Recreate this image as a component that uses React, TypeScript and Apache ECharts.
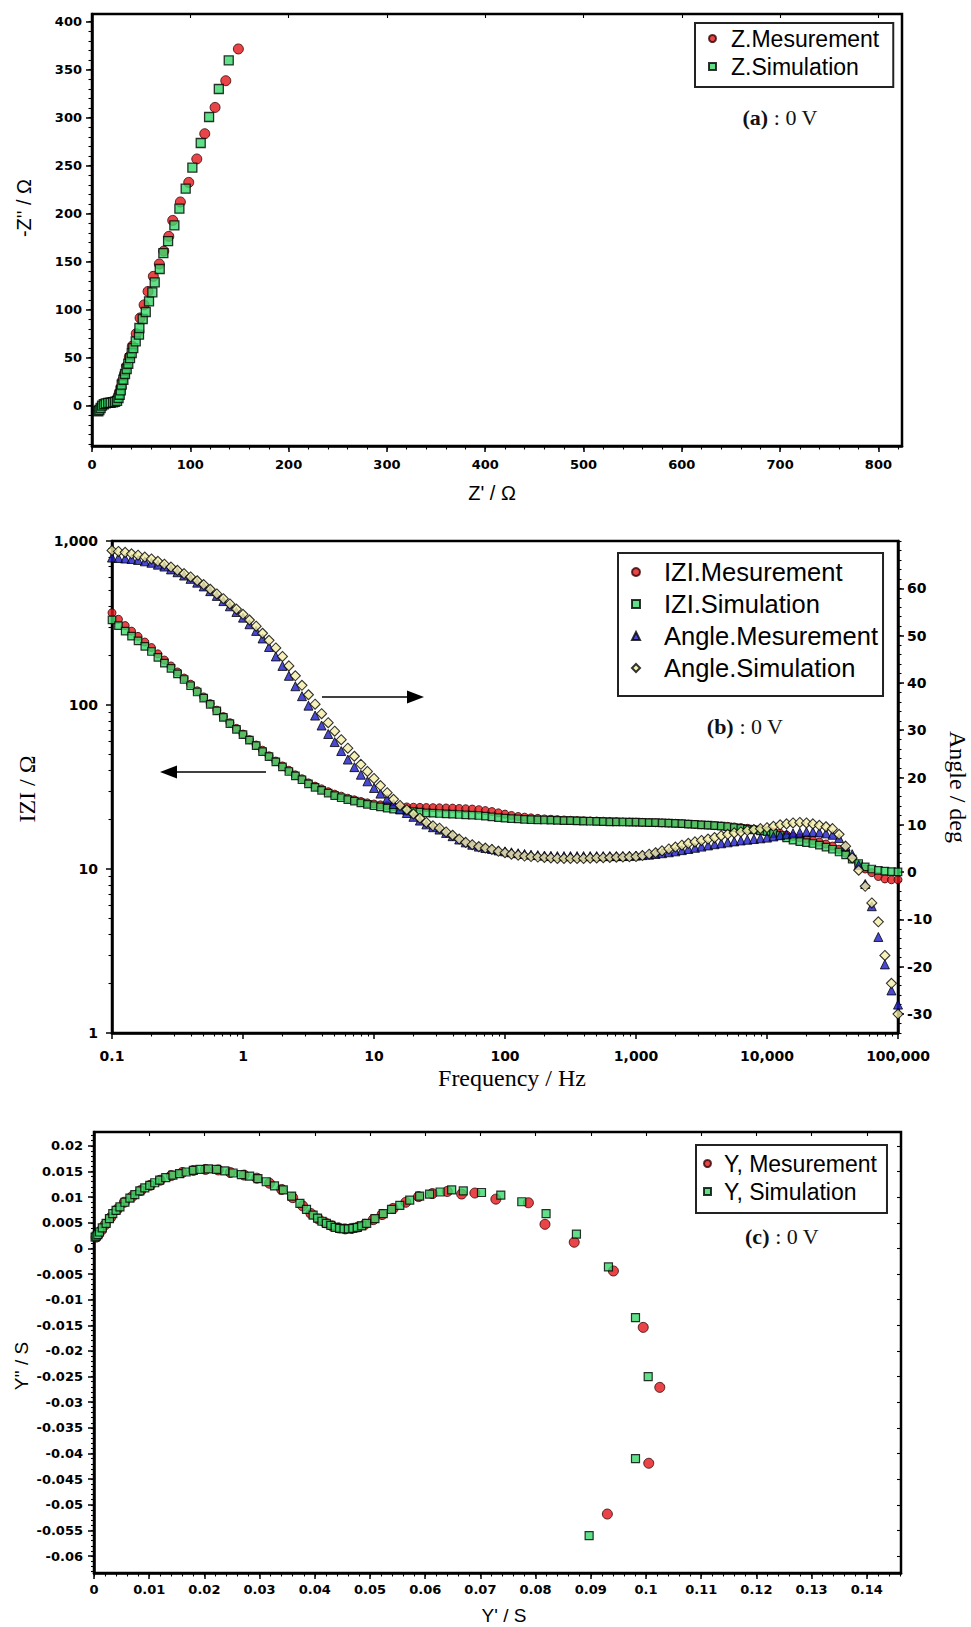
import React, { useEffect, useRef } from 'react';
import * as echarts from 'echarts';

// ---------- Panel (a): Nyquist, Z ----------
const zMesRe = [7, 9, 11, 13.5, 16, 18.5, 21, 24, 26.5, 28, 29.5, 31, 33, 35, 38, 41, 45, 48.9, 53, 57, 62.4, 68.5, 73, 78.1, 82.1, 89.9, 98.4, 106.6, 114.7, 125.2, 136.1, 148.9];
const zMesIm = [-4, -1.5, 1, 2.5, 3, 3.5, 4, 5, 9, 14, 19, 26, 33, 41, 51, 62, 75, 91.4, 105, 119, 134.7, 147.6, 161, 176.4, 193, 212.2, 232.6, 257, 283.3, 310.7, 338.5, 371.6];
const zSimRe = [6.4, 7.5, 8.8, 10.2, 12, 14, 16.5, 19, 21.5, 23.5, 25.5, 27, 28.2, 29.3, 30.2, 31.9, 33.6, 35.3, 36.9, 38.7, 40.4, 42, 44.5, 47.8, 48.2, 51.6, 54.7, 58, 61.4, 63.8, 68.9, 72.6, 77.4, 83.8, 88.9, 95.3, 102.1, 110.6, 119.1, 129, 139.1];
const zSimIm = [-5.8, -4.5, -2.4, 0, 1.5, 2.5, 3, 3, 3.5, 4, 5, 8, 11.4, 16, 21.9, 27, 33, 38.2, 43.7, 49.6, 54.9, 60, 67, 74, 80.9, 90.3, 97.6, 108.7, 118.1, 128.4, 142.4, 159, 171.5, 187.8, 205.2, 226, 247.9, 273.6, 300.7, 329.9, 359.7];
const zReTicks = [0, 100, 200, 300, 400, 500, 600, 700, 800];
const zImTicks = [0, 50, 100, 150, 200, 250, 300, 350, 400];

// ---------- Panel (b): Bode ----------
const freq = [
  0.1, 0.112, 0.126, 0.141, 0.158, 0.178, 0.2, 0.224, 0.251, 0.282, 0.316, 0.355, 0.398, 0.447, 0.501, 0.562, 0.631, 0.708, 0.794, 0.891,
  1, 1.12, 1.26, 1.41, 1.58, 1.78, 2, 2.24, 2.51, 2.82, 3.16, 3.55, 3.98, 4.47, 5.01, 5.62, 6.31, 7.08, 7.94, 8.91,
  10, 11.2, 12.6, 14.1, 15.8, 17.8, 20, 22.4, 25.1, 28.2, 31.6, 35.5, 39.8, 44.7, 50.1, 56.2, 63.1, 70.8, 79.4, 89.1,
  100, 112, 126, 141, 158, 178, 200, 224, 251, 282, 316, 355, 398, 447, 501, 562, 631, 708, 794, 891,
  1000, 1120, 1260, 1410, 1580, 1780, 2000, 2240, 2510, 2820, 3160, 3550, 3980, 4470, 5010, 5620, 6310, 7080, 7940, 8910,
  10000, 11200, 12600, 14100, 15800, 17800, 20000, 22400, 25100, 28200, 31600, 35500, 39800, 44700, 50100, 56200, 63100, 70800, 79400, 89100,
  100000,
];
const zModMes = [
  365, 333, 305, 282, 262, 242, 224, 205, 188, 173, 159, 146, 134, 122, 112, 102, 93, 85, 78, 72,
  66.5, 61.5, 57, 53, 49, 45.5, 42.5, 40, 37.5, 35.5, 33.5, 32, 30.8, 29.6, 28.6, 27.8, 27, 26.4, 25.8, 25.3,
  24.9, 24.6, 24.3, 24.1, 24.0, 23.9, 23.8, 23.75, 23.7, 23.65, 23.6, 23.55, 23.5, 23.4, 23.3, 23.2, 23.0, 22.7, 22.4, 22.0,
  21.6, 21.2, 20.9, 20.7, 20.5, 20.35, 20.2, 20.1, 20.0, 19.9, 19.8, 19.75, 19.7, 19.65, 19.6, 19.55, 19.5, 19.45, 19.4, 19.35,
  19.3, 19.25, 19.2, 19.15, 19.1, 19.05, 19.0, 18.9, 18.8, 18.7, 18.6, 18.5, 18.4, 18.3, 18.2, 18.05, 17.9, 17.7, 17.5, 17.3,
  17.1, 16.8, 16.5, 16.1, 15.8, 15.5, 15.2, 14.9, 14.6, 14.2, 13.8, 13.2, 12.5, 11.6, 10.7, 10.0, 9.5, 9.0, 8.7, 8.6,
  8.6,
];
const zModSim = [
  330, 305, 282, 263, 246, 228, 212, 195, 180, 167, 155, 143, 131, 120, 110, 101, 92, 84, 77, 71,
  66, 61, 56.5, 52, 48.5, 45, 42, 39.3, 37, 35, 33, 31.5, 30.2, 29, 28, 27.2, 26.5, 25.9, 25.3, 24.8,
  24.3, 23.9, 23.5, 23.2, 22.9, 22.6, 22.4, 22.2, 22.0, 21.9, 21.8, 21.7, 21.6, 21.5, 21.4, 21.3, 21.2, 21.0, 20.8, 20.6,
  20.4, 20.3, 20.2, 20.1, 20.0, 19.95, 19.9, 19.85, 19.8, 19.75, 19.7, 19.65, 19.6, 19.55, 19.5, 19.45, 19.4, 19.38, 19.35, 19.32,
  19.3, 19.25, 19.2, 19.15, 19.1, 19.05, 19.0, 18.9, 18.8, 18.7, 18.6, 18.5, 18.4, 18.25, 18.1, 17.9, 17.7, 17.5, 17.3, 17.1,
  16.9, 16.5, 16.0, 15.5, 15.0, 14.7, 14.5, 14.3, 14.0, 13.6, 13.2, 12.7, 12.2, 11.5, 10.8, 10.3, 10.0, 9.8, 9.7, 9.65,
  9.6,
];
const angleMes = [
  66.5, 66.4, 66.3, 66.2, 66, 65.7, 65.4, 65, 64.6, 64, 63.4, 62.7, 62, 61.2, 60.4, 59.4, 58.4, 57.3, 56.2, 55,
  53.8, 52.4, 51, 49.4, 47.6, 45.6, 43.6, 41.5, 39.3, 37.2, 35.2, 33.1, 31, 29.2, 27.5, 25.6, 23.8, 22.2, 20.6, 19.2,
  17.8, 16.6, 15.5, 14.4, 13.3, 12.5, 11.7, 10.9, 10.1, 9.5, 9.0, 8.3, 7.6, 6.9, 6.3, 5.8, 5.4, 5.1, 4.9, 4.6,
  4.4, 4.2, 4.0, 3.85, 3.7, 3.6, 3.5, 3.45, 3.4, 3.4, 3.4, 3.4, 3.4, 3.4, 3.4, 3.4, 3.4, 3.4, 3.4, 3.45,
  3.5, 3.6, 3.7, 3.85, 4.0, 4.2, 4.4, 4.65, 4.9, 5.15, 5.4, 5.65, 5.9, 6.1, 6.3, 6.5, 6.7, 6.85, 7.0, 7.15,
  7.3, 7.55, 7.8, 8.0, 8.2, 8.35, 8.5, 8.5, 8.4, 8.2, 7.9, 7.2, 5.5, 3.8, 1.5, -2.5, -7.2, -13.7, -19.5, -25,
  -28,
];
const angleSim = [
  68, 67.8, 67.6, 67.3, 67, 66.6, 66.2, 65.7, 65.1, 64.5, 63.8, 63.1, 62.4, 61.6, 60.8, 59.8, 58.8, 57.8, 56.7, 55.6,
  54.5, 53.3, 52, 50.5, 49, 47.4, 45.6, 43.6, 41.5, 39.5, 37.5, 35.5, 33.5, 31.6, 29.8, 28, 26.2, 24.5, 22.8, 21.3,
  19.8, 18.3, 16.8, 15.4, 14.1, 13.2, 12.3, 11.4, 10.5, 9.8, 9.3, 8.5, 7.8, 7.0, 6.3, 5.8, 5.4, 5.1, 4.8, 4.4,
  4.1, 3.8, 3.6, 3.4, 3.3, 3.2, 3.1, 3.0, 2.9, 2.9, 2.9, 2.9, 2.9, 2.95, 3.0, 3.05, 3.1, 3.15, 3.2, 3.25,
  3.3, 3.5, 3.8, 4.1, 4.5, 4.9, 5.3, 5.7, 6.1, 6.4, 6.7, 7.0, 7.3, 7.7, 8.0, 8.3, 8.5, 8.8, 9.0, 9.2,
  9.4, 9.7, 10.0, 10.2, 10.4, 10.5, 10.4, 10.2, 9.9, 9.6, 9.2, 8.0, 5.5, 3.0, 0.4, -3.0, -6.5, -10.5, -17.6, -23.5,
  -30,
];
const freqTickLabels = ['0.1', '1', '10', '100', '1,000', '10,000', '100,000'];
const modTickLabels = ['1', '10', '100', '1,000'];
const angleTicks = [-30, -20, -10, 0, 10, 20, 30, 40, 50, 60];
const logMinorMultipliers = [2, 3, 4, 5, 6, 7, 8, 9];

// ---------- Panel (c): Admittance ----------
const yMesRe = [0.0004, 0.0008, 0.0013, 0.002, 0.003, 0.0042, 0.0055, 0.0069, 0.0085, 0.0102, 0.012, 0.014, 0.016, 0.018, 0.0202, 0.0225, 0.0247, 0.0272, 0.0295, 0.0318, 0.034, 0.036, 0.0378, 0.0393, 0.0407, 0.0419, 0.0431, 0.0443, 0.0455, 0.0467, 0.0479, 0.0491, 0.0506, 0.0522, 0.0542, 0.0565, 0.0588, 0.0613, 0.064, 0.0666, 0.069, 0.0728, 0.0787, 0.0817, 0.087, 0.0941, 0.0995, 0.1025, 0.1005, 0.093];
const yMesIm = [0.0022, 0.0027, 0.0035, 0.0046, 0.006, 0.0076, 0.009, 0.0101, 0.0113, 0.0123, 0.0133, 0.0142, 0.0148, 0.0152, 0.0154, 0.0153, 0.0148, 0.0143, 0.0137, 0.0127, 0.0115, 0.0099, 0.0083, 0.0068, 0.0057, 0.005, 0.0044, 0.004, 0.0038, 0.0039, 0.0042, 0.0047, 0.0056, 0.0066, 0.0078, 0.009, 0.0101, 0.0107, 0.0111, 0.0106, 0.0108, 0.0096, 0.0089, 0.0047, 0.0012, -0.0044, -0.0154, -0.0271, -0.0419, -0.0518];
const ySimRe = [0.0002, 0.0004, 0.0007, 0.001, 0.0015, 0.0022, 0.0028, 0.0034, 0.004, 0.0047, 0.0056, 0.0065, 0.0074, 0.0083, 0.0092, 0.0101, 0.011, 0.0119, 0.013, 0.0143, 0.0155, 0.0167, 0.018, 0.0192, 0.0207, 0.0222, 0.0237, 0.0252, 0.0267, 0.0282, 0.0297, 0.0312, 0.0327, 0.0343, 0.0358, 0.0373, 0.0385, 0.0397, 0.0405, 0.0413, 0.0421, 0.0429, 0.0437, 0.0445, 0.0453, 0.0461, 0.0469, 0.0477, 0.0485, 0.0494, 0.0509, 0.0524, 0.0539, 0.0554, 0.0572, 0.059, 0.0608, 0.0627, 0.0648, 0.0669, 0.0702, 0.0737, 0.0775, 0.0819, 0.0874, 0.0932, 0.0981, 0.1004, 0.0981, 0.0897];
const ySimIm = [0.0022, 0.0024, 0.0027, 0.0032, 0.004, 0.0049, 0.0058, 0.0068, 0.0074, 0.0081, 0.009, 0.0098, 0.0105, 0.0112, 0.0118, 0.0123, 0.0128, 0.0133, 0.0138, 0.0143, 0.0146, 0.0149, 0.0152, 0.0154, 0.0155, 0.0154, 0.0151, 0.0147, 0.0144, 0.0141, 0.0136, 0.013, 0.0122, 0.0114, 0.0102, 0.0088, 0.0076, 0.0065, 0.0059, 0.0053, 0.0049, 0.0045, 0.0041, 0.0039, 0.0038, 0.0038, 0.0039, 0.0041, 0.0044, 0.0049, 0.0058, 0.0068, 0.0076, 0.0084, 0.0094, 0.0102, 0.0106, 0.011, 0.0114, 0.0112, 0.0109, 0.0104, 0.0091, 0.0068, 0.0028, -0.0036, -0.0135, -0.025, -0.041, -0.056];
const yReTicks = [0, 0.01, 0.02, 0.03, 0.04, 0.05, 0.06, 0.07, 0.08, 0.09, 0.1, 0.11, 0.12, 0.13, 0.14];
const yImTicks = [0.02, 0.015, 0.01, 0.005, 0, -0.005, -0.01, -0.015, -0.02, -0.025, -0.03, -0.035, -0.04, -0.045, -0.05, -0.055, -0.06];

// ---------- helpers ----------
const zip = (a: number[], b: number[]) => a.map((v, i) => [v, b[i]]);
const steps = (a: number, b: number, s: number) => {
  const out: number[] = [];
  for (let v = a; v <= b + s * 1e-6; v += s) out.push(+v.toFixed(6));
  return out;
};
// positions (in decades) of the log-axis minor ticks 2..9 of each decade
const logMinor = (fromDecade: number, toDecade: number) => {
  const out: number[] = [];
  for (let d = fromDecade; d < toDecade; d++) logMinorMultipliers.forEach((m) => out.push(d + Math.log10(m)));
  return out;
};

const RED = '#e3161c';
const GREEN = '#38d96c';
const BLUE = '#1c1cc8';
const YELLOW = '#f4eea8';
const tickFont = { fontFamily: 'DejaVu Sans', fontWeight: 'bold', fontSize: 13, color: '#000' };
const axisLine = { show: true, onZero: false, lineStyle: { color: '#000', width: 2.5 } };
const noLine = { show: false, onZero: false };
const majorTick = (vals: number[], len = 6, inside = false) => ({ show: true, inside, customValues: vals, length: len, lineStyle: { color: '#000', width: 1.5 } });
const minorTickAxis = (vals: number[], len = 3.5, inside = false) => ({ show: true, inside, customValues: vals, length: len, lineStyle: { color: '#000', width: 1.1 } });
const off = { show: false };
const fmtSmall = (v: number) => String(Number(v.toFixed(3)));

const gridBase = { show: true, borderColor: '#000', borderWidth: 2.5, containLabel: false, outerBoundsMode: 'none' };
const legendBase = { orient: 'vertical', borderColor: '#222', borderWidth: 2, backgroundColor: '#fff', selectedMode: false };

const option: any = {
  animation: false,
  backgroundColor: '#fff',
  grid: [
    { left: 92, top: 14, width: 810, height: 432, ...gridBase },
    { left: 112, top: 541, width: 786, height: 492, ...gridBase },
    { left: 94, top: 1132, width: 807, height: 441, ...gridBase },
  ],
  xAxis: [
    // 0: (a) main
    { gridIndex: 0, type: 'value', min: 0, max: 824, position: 'bottom', axisLine, axisTick: majorTick(zReTicks), axisLabel: { customValues: zReTicks, margin: 12, ...tickFont }, splitLine: off },
    // 1: (a) minor ticks
    { gridIndex: 0, type: 'value', min: 0, max: 824, position: 'bottom', axisLine: noLine, axisTick: minorTickAxis(steps(0, 820, 20)), axisLabel: off, splitLine: off },
    // 2: (a) top ticks
    { gridIndex: 0, type: 'value', min: 0, max: 824, position: 'top', axisLine: noLine, axisTick: minorTickAxis(zReTicks, 4, true), axisLabel: off, splitLine: off },
    // 3: (b) frequency, log
    {
      gridIndex: 1, type: 'log', logBase: 10, min: 0.1, max: 100000, position: 'bottom', axisLine,
      axisTick: { show: true, length: 6, lineStyle: { color: '#000', width: 1.5 } },
      minorTick: off,
      axisLabel: { margin: 16, ...tickFont, fontSize: 14, formatter: (v: number) => freqTickLabels[Math.round(Math.log10(v)) + 1] },
      splitLine: off, minorSplitLine: off,
    },
    // 4: (b) log minor ticks (decade units)
    { gridIndex: 1, type: 'value', min: -1, max: 5, position: 'bottom', axisLine: noLine, axisTick: minorTickAxis(logMinor(-1, 5), 3.5), axisLabel: off, splitLine: off },
    // 5: (c) main
    { gridIndex: 2, type: 'value', min: 0, max: 0.1462, position: 'bottom', axisLine, axisTick: majorTick(yReTicks), axisLabel: { customValues: yReTicks, margin: 10, formatter: fmtSmall, ...tickFont }, splitLine: off },
    // 6: (c) minor
    { gridIndex: 2, type: 'value', min: 0, max: 0.1462, position: 'bottom', axisLine: noLine, axisTick: minorTickAxis(steps(0, 0.146, 0.002)), axisLabel: off, splitLine: off },
    // 7: (c) top ticks
    { gridIndex: 2, type: 'value', min: 0, max: 0.1462, position: 'top', axisLine: noLine, axisTick: minorTickAxis(yReTicks, 4, true), axisLabel: off, splitLine: off },
  ],
  yAxis: [
    // 0: (a) main
    { gridIndex: 0, type: 'value', min: -42, max: 408, position: 'left', axisLine, axisTick: majorTick(zImTicks), axisLabel: { customValues: zImTicks, margin: 10, ...tickFont }, splitLine: off },
    // 1: (a) minor
    { gridIndex: 0, type: 'value', min: -42, max: 408, position: 'left', axisLine: noLine, axisTick: minorTickAxis(steps(-40, 400, 10)), axisLabel: off, splitLine: off },
    // 2: (b) |Z| log
    {
      gridIndex: 1, type: 'log', logBase: 10, min: 1, max: 1000, position: 'left', axisLine,
      axisTick: { show: true, length: 6, lineStyle: { color: '#000', width: 1.5 } },
      minorTick: off,
      axisLabel: { margin: 14, ...tickFont, fontSize: 14, formatter: (v: number) => modTickLabels[Math.round(Math.log10(v))] },
      splitLine: off, minorSplitLine: off,
    },
    // 3: (b) |Z| log minor ticks (decade units)
    { gridIndex: 1, type: 'value', min: 0, max: 3, position: 'left', axisLine: noLine, axisTick: minorTickAxis(logMinor(0, 3), 3.5), axisLabel: off, splitLine: off },
    // 4: (b) angle right
    { gridIndex: 1, type: 'value', min: -34, max: 70, position: 'right', axisLine, axisTick: majorTick(angleTicks), axisLabel: { customValues: angleTicks, margin: 9, ...tickFont, fontSize: 14 }, splitLine: off },
    // 5: (b) angle minor
    { gridIndex: 1, type: 'value', min: -34, max: 70, position: 'right', axisLine: noLine, axisTick: minorTickAxis(steps(-34, 70, 2)), axisLabel: off, splitLine: off },
    // 6: (c) main
    { gridIndex: 2, type: 'value', min: -0.0633, max: 0.0227, position: 'left', axisLine, axisTick: majorTick(yImTicks), axisLabel: { customValues: yImTicks, margin: 11, formatter: fmtSmall, ...tickFont }, splitLine: off },
    // 7: (c) minor
    { gridIndex: 2, type: 'value', min: -0.0633, max: 0.0227, position: 'left', axisLine: noLine, axisTick: minorTickAxis(steps(-0.063, 0.022, 0.001), 3), axisLabel: off, splitLine: off },
    // 8: (c) right ticks
    { gridIndex: 2, type: 'value', min: -0.0633, max: 0.0227, position: 'right', axisLine: noLine, axisTick: minorTickAxis(yImTicks, 4, true), axisLabel: off, splitLine: off },
  ],
  legend: [
    {
      ...legendBase, data: ['Z.Mesurement', 'Z.Simulation'], left: 695, top: 23,
      padding: [4, 14, 9, 13], itemGap: 5, itemWidth: 7, itemHeight: 7,
      textStyle: { fontFamily: 'Liberation Sans', fontSize: 23, color: '#000', padding: [0, 0, 0, 10] },
    },
    {
      ...legendBase, data: ['IZI.Mesurement', 'IZI.Simulation', 'Angle.Mesurement', 'Angle.Simulation'], left: 618, top: 553,
      padding: [6, 5, 15, 13], itemGap: 6, itemWidth: 8, itemHeight: 8,
      textStyle: { fontFamily: 'Liberation Sans', fontSize: 25.5, color: '#000', padding: [0, 0, 0, 19] },
    },
    {
      ...legendBase, data: ['Y, Mesurement', 'Y, Simulation'], left: 696, top: 1145,
      padding: [7, 10, 10, 7], itemGap: 5, itemWidth: 7, itemHeight: 7,
      textStyle: { fontFamily: 'Liberation Sans', fontSize: 23, color: '#000', padding: [0, 0, 0, 8] },
    },
  ],
  series: [
    // (a)
    { type: 'scatter', name: 'Z.Mesurement', xAxisIndex: 0, yAxisIndex: 0, data: zip(zMesRe, zMesIm), symbol: 'circle', symbolSize: 10, itemStyle: { color: RED, borderColor: '#300', borderWidth: 1 } },
    { type: 'scatter', name: 'Z.Simulation', xAxisIndex: 0, yAxisIndex: 0, data: zip(zSimRe, zSimIm), symbol: 'rect', symbolSize: 9, itemStyle: { color: GREEN, borderColor: '#000', borderWidth: 1.3 } },
    // (b)
    { type: 'scatter', name: 'IZI.Mesurement', xAxisIndex: 3, yAxisIndex: 2, data: zip(freq, zModMes), symbol: 'circle', symbolSize: 8, itemStyle: { color: RED, borderColor: '#300', borderWidth: 1 } },
    { type: 'scatter', name: 'IZI.Simulation', xAxisIndex: 3, yAxisIndex: 2, data: zip(freq, zModSim), symbol: 'rect', symbolSize: 7.5, itemStyle: { color: GREEN, borderColor: '#000', borderWidth: 1.2 } },
    { type: 'scatter', name: 'Angle.Mesurement', xAxisIndex: 3, yAxisIndex: 4, data: zip(freq, angleMes), symbol: 'triangle', symbolSize: 9, itemStyle: { color: BLUE, borderColor: '#000', borderWidth: 1 } },
    { type: 'scatter', name: 'Angle.Simulation', xAxisIndex: 3, yAxisIndex: 4, data: zip(freq, angleSim), symbol: 'diamond', symbolSize: 10, itemStyle: { color: YELLOW, borderColor: '#000', borderWidth: 1.1 } },
    // (c)
    { type: 'scatter', name: 'Y, Mesurement', xAxisIndex: 5, yAxisIndex: 6, data: zip(yMesRe, yMesIm), symbol: 'circle', symbolSize: 10, itemStyle: { color: RED, borderColor: '#300', borderWidth: 1 } },
    { type: 'scatter', name: 'Y, Simulation', xAxisIndex: 5, yAxisIndex: 6, data: zip(ySimRe, ySimIm), symbol: 'rect', symbolSize: 8, itemStyle: { color: GREEN, borderColor: '#000', borderWidth: 1.2 } },
  ],
  graphic: {
    elements: [
      // panel tags
      {
        type: 'text', x: 780, y: 117,
        style: {
          text: '{b|(a)}{n| : 0 V}', align: 'center', verticalAlign: 'middle',
          rich: { b: { fontFamily: 'Liberation Serif', fontWeight: 'bold', fontSize: 22, fill: '#111' }, n: { fontFamily: 'Liberation Serif', fontSize: 22, fill: '#111' } },
        },
      },
      {
        type: 'text', x: 745, y: 726,
        style: {
          text: '{b|(b)}{n| : 0 V}', align: 'center', verticalAlign: 'middle',
          rich: { b: { fontFamily: 'Liberation Serif', fontWeight: 'bold', fontSize: 22, fill: '#111' }, n: { fontFamily: 'Liberation Serif', fontSize: 22, fill: '#111' } },
        },
      },
      {
        type: 'text', x: 782, y: 1236,
        style: {
          text: '{b|(c)}{n| : 0 V}', align: 'center', verticalAlign: 'middle',
          rich: { b: { fontFamily: 'Liberation Serif', fontWeight: 'bold', fontSize: 22, fill: '#111' }, n: { fontFamily: 'Liberation Serif', fontSize: 22, fill: '#111' } },
        },
      },
      // axis titles
      { type: 'text', x: 24, y: 208, rotation: Math.PI / 2, style: { text: "-Z'' / Ω", align: 'center', verticalAlign: 'middle', fontFamily: 'Liberation Sans', fontSize: 20, fill: '#000' } },
      { type: 'text', x: 492, y: 493, style: { text: "Z' / Ω", align: 'center', verticalAlign: 'middle', fontFamily: 'Liberation Sans', fontSize: 20, fill: '#000' } },
      { type: 'text', x: 27, y: 789, rotation: Math.PI / 2, style: { text: 'IZI / Ω', align: 'center', verticalAlign: 'middle', fontFamily: 'Liberation Serif', fontSize: 24, fill: '#000' } },
      { type: 'text', x: 958, y: 787, rotation: -Math.PI / 2, style: { text: 'Angle / deg', align: 'center', verticalAlign: 'middle', fontFamily: 'Liberation Serif', fontSize: 24, fill: '#000' } },
      { type: 'text', x: 512, y: 1078, style: { text: 'Frequency / Hz', align: 'center', verticalAlign: 'middle', fontFamily: 'Liberation Serif', fontSize: 24, fill: '#000' } },
      { type: 'text', x: 21, y: 1366, rotation: Math.PI / 2, style: { text: "Y'' / S", align: 'center', verticalAlign: 'middle', fontFamily: 'Liberation Sans', fontSize: 19, fill: '#000' } },
      { type: 'text', x: 504, y: 1615, style: { text: "Y' / S", align: 'center', verticalAlign: 'middle', fontFamily: 'Liberation Sans', fontSize: 19, fill: '#000' } },
      // arrows in (b)
      { type: 'line', shape: { x1: 322, y1: 697, x2: 410, y2: 697 }, style: { stroke: '#000', lineWidth: 1.6 } },
      { type: 'polygon', shape: { points: [[424, 697], [407, 690.5], [407, 703.5]] }, style: { fill: '#000' } },
      { type: 'line', shape: { x1: 266, y1: 772, x2: 175, y2: 772 }, style: { stroke: '#000', lineWidth: 1.6 } },
      { type: 'polygon', shape: { points: [[160, 772], [177, 765.5], [177, 778.5]] }, style: { fill: '#000' } },
    ],
  },
};

export default function App() {
  const ref = useRef<HTMLDivElement>(null);
  useEffect(() => {
    if (!ref.current) return;
    const chart = echarts.init(ref.current, null, { renderer: 'svg' });
    chart.setOption(option);
    return () => chart.dispose();
  }, []);
  return (
    <div
      ref={ref}
      style={{ position: 'absolute', left: 0, top: 0, width: 971, height: 1627, background: '#fff' }}
    />
  );
}
